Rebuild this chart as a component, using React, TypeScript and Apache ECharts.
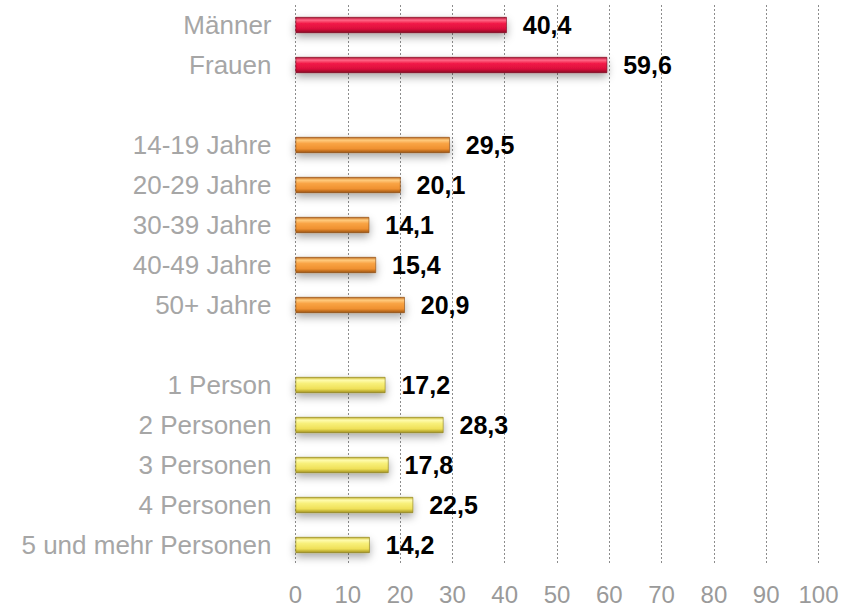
import React, { useEffect, useRef } from "react";
import * as echarts from "echarts";

const genderLabels = ["Männer", "Frauen"];
const genderValues = [40.4, 59.6];
const ageLabels = ["14-19 Jahre", "20-29 Jahre", "30-39 Jahre", "40-49 Jahre", "50+ Jahre"];
const ageValues = [29.5, 20.1, 14.1, 15.4, 20.9];
const householdLabels = ["1 Person", "2 Personen", "3 Personen", "4 Personen", "5 und mehr Personen"];
const householdValues = [17.2, 28.3, 17.8, 22.5, 14.2];
const xTicks = [0, 10, 20, 30, 40, 50, 60, 70, 80, 90, 100];

const grad = (stops: [number, string][]) =>
  new echarts.graphic.LinearGradient(0, 0, 0, 1, stops.map(([offset, color]) => ({ offset, color })));

const redFill = () => grad([[0, "#b00c30"], [0.18, "#ff6a88"], [0.4, "#f21a48"], [0.75, "#dc0f3c"], [1, "#8a0824"]]);
const orangeFill = () => grad([[0, "#c06a1a"], [0.18, "#ffcc80"], [0.4, "#f9a445"], [0.75, "#ef9030"], [1, "#9c5410"]]);
const yellowFill = () => grad([[0, "#c4b22c"], [0.18, "#fffcb0"], [0.4, "#f8f07a"], [0.75, "#efe058"], [1, "#a49422"]]);

export default function App() {
  const ref = useRef<HTMLDivElement>(null);
  useEffect(() => {
    if (!ref.current) return;
    const chart = echarts.init(ref.current, undefined, { renderer: "svg" });
    const categories = [...genderLabels, " ", ...ageLabels, "  ", ...householdLabels];
    const mk = (v: number, fill: any, edge: string) => ({
      value: v,
      itemStyle: { color: fill, borderColor: edge, borderWidth: 0.6 },
    });
    const data: any[] = [
      ...genderValues.map((v) => mk(v, redFill(), "#7a0620")),
      null,
      ...ageValues.map((v) => mk(v, orangeFill(), "#8a4a10")),
      null,
      ...householdValues.map((v) => mk(v, yellowFill(), "#8a7c18")),
    ];
    chart.setOption({
      animation: false,
      backgroundColor: "#ffffff",
      grid: { left: 295.5, right: 24.5, top: 5, bottom: 43, containLabel: false },
      xAxis: {
        type: "value",
        min: 0,
        max: 100,
        interval: 10,
        axisLine: { show: false },
        axisTick: { show: false },
        axisLabel: {
          color: "#9a9a9a",
          fontSize: 24,
          lineHeight: 24,
          fontFamily: "Liberation Sans, Arial, sans-serif",
          margin: 17,
          customValues: xTicks,
        },
        splitLine: { show: true, lineStyle: { color: "#8c8c8c", width: 1, type: [2, 2] } },
      },
      yAxis: {
        type: "category",
        inverse: true,
        data: categories,
        axisLine: { show: false },
        axisTick: { show: false },
        axisLabel: {
          color: "#a6a6a6",
          fontSize: 26,
          fontFamily: "Liberation Sans, Arial, sans-serif",
          margin: 24,
        },
      },
      series: [
        {
          type: "bar",
          data,
          barWidth: 16,
          itemStyle: {
            shadowColor: "rgba(0,0,0,0.35)",
            shadowBlur: 8,
            shadowOffsetY: 4,
          },
          label: {
            show: true,
            position: "right",
            distance: 16,
            color: "#000000",
            fontWeight: "bold",
            fontSize: 25,
            fontFamily: "Liberation Sans, Arial, sans-serif",
            formatter: (p: any) => (p.value == null ? "" : String(p.value.toFixed(1)).replace(".", ",")),
          },
        },
      ],
    });
    return () => chart.dispose();
  }, []);
  return <div ref={ref} style={{ width: 843, height: 608, position: "absolute", left: 0, top: 0 }} />;
}
